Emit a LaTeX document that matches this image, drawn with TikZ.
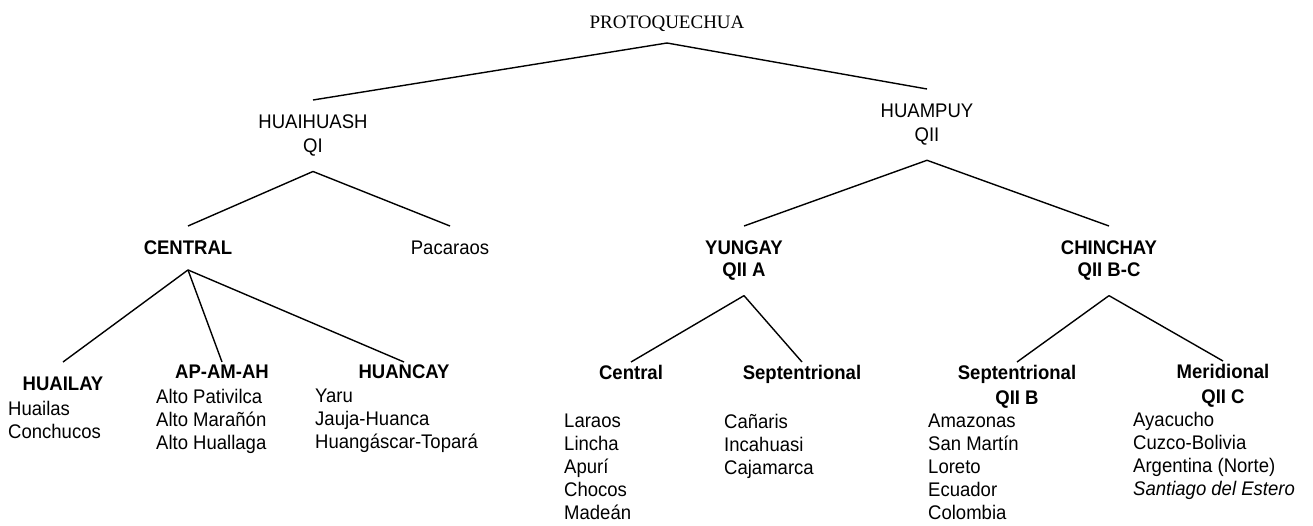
\documentclass[tikz,border=0pt]{standalone}
\usepackage{fontspec}
\setmainfont[FakeStretch=0.94]{Liberation Sans}
\newfontfamily\timesfont{Liberation Serif}

\begin{document}
\begin{tikzpicture}[x=1pt, y=-1pt,
    lbl/.style={inner sep=0pt, align=center, font=\fontsize{19.7}{24}\selectfont},
    grp/.style={lbl, outer ysep=15pt, anchor=north},
    strong/.style={font=\bfseries\fontsize{19.7}{22}\selectfont},
    sub/.style={lbl, font=\bfseries\fontsize{19.7}{25}\selectfont, outer ysep=3pt, anchor=north},
    lst/.style={inner sep=0pt, align=left, anchor=north west, font=\fontsize{19.7}{23}\selectfont},
    branch/.style={line width=1.4pt}]
        \useasboundingbox (0,0) rectangle (1313,525);

        \node[lbl, font=\timesfont\fontsize{19}{23}\selectfont, anchor=south, outer ysep=11pt] (proto) at (667,43) {PROTOQUECHUA};

        \node[grp] (hh) at (313,100) {HUAIHUASH\\QI};
        \node[grp] (hp) at (927,89) {HUAMPUY\\QII};

        \node[grp, strong] (cen) at (188,226) {CENTRAL};
        \node[grp] (pac) at (450,226) {Pacaraos};
        \node[grp, strong] (yun) at (744,226) {YUNGAY\\QII A};
        \node[grp, strong] (chi) at (1109,226) {CHINCHAY\\QII B-C};

        \node[sub, outer ysep=15pt] (huailay) at (63,362) {HUAILAY};
        \node[sub] (apamah) at (222,362) {AP-AM-AH};
        \node[sub] (huancay) at (404,362) {HUANCAY};
        \node[sub] (ycen) at (631,362) {Central};
        \node[sub] (ysep) at (802,362) {Septentrional};
        \node[sub] (csep) at (1017,362) {Septentrional\\QII B};
        \node[sub] (mer) at (1223,361) {Meridional\\QII C};

        \node[lst] (huailay-l) at (8,401) {Huailas\\Conchucos};
        \node[lst] (apamah-l) at (156,389) {Alto Pativilca\\Alto Marañón\\Alto Huallaga};
        \node[lst] (huancay-l) at (315,389) {Yaru\\Jauja-Huanca\\Huangáscar-Topará};
        \node[lst] (ycen-l) at (564,414) {Laraos\\Lincha\\Apurí\\Chocos\\Madeán};
        \node[lst] (ysep-l) at (724,414) {Cañaris\\Incahuasi\\Cajamarca};
        \node[lst] (csep-l) at (928,414) {Amazonas\\San Martín\\Loreto\\Ecuador\\Colombia};
        \node[lst] (mer-l) at (1133,412) {Ayacucho\\Cuzco-Bolivia\\Argentina (Norte)\\\textit{Santiago del Estero}};

        \draw[branch] (proto.south) -- (hh.north);
        \draw[branch] (proto.south) -- (hp.north);
        \draw[branch] (hh.south) -- (cen.north);
        \draw[branch] (hh.south) -- (pac.north);
        \draw[branch] (hp.south) -- (yun.north);
        \draw[branch] (hp.south) -- (chi.north);
        \draw[branch] (cen.south) -- (huailay.north);
        \draw[branch] (cen.south) -- (apamah.north);
        \draw[branch] (cen.south) -- (huancay.north);
        \draw[branch] (yun.south) -- (ycen.north);
        \draw[branch] (yun.south) -- (ysep.north);
        \draw[branch] (chi.south) -- (csep.north);
        \draw[branch] (chi.south) -- (mer.north);
    \end{tikzpicture}
\end{document}
